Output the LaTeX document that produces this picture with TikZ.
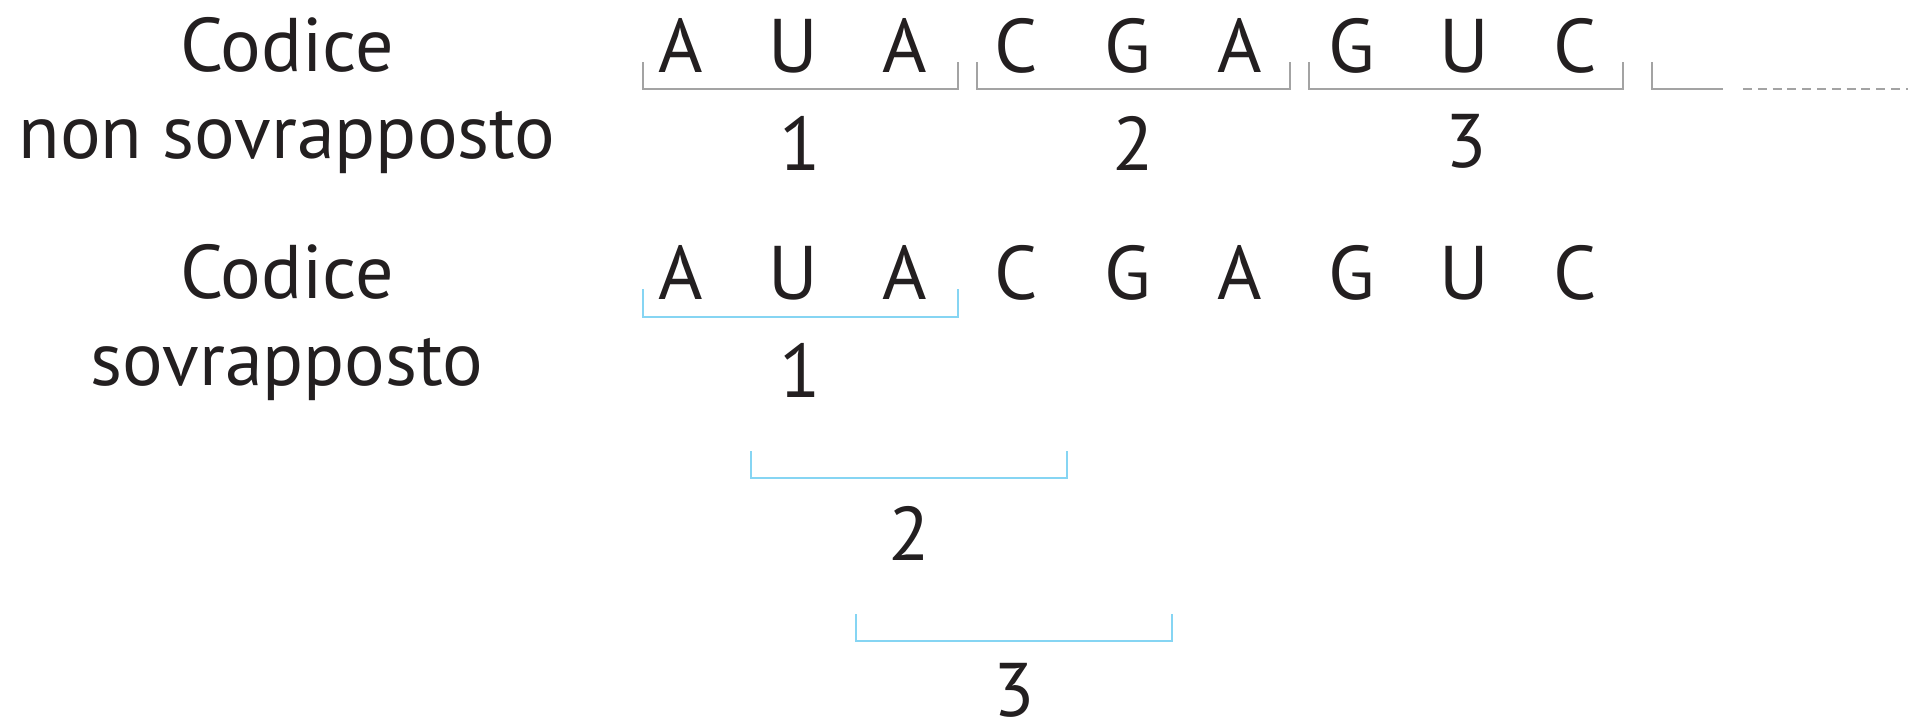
\documentclass[tikz,border=0pt]{standalone}
\usepackage{fontspec}
\setmainfont{PT Sans}[Numbers=Lining]
\definecolor{codtext}{HTML}{231F20}
\definecolor{nongray}{HTML}{A3A3A3}
\definecolor{ovlblue}{HTML}{86D5F3}
\begin{document}
\begin{tikzpicture}[x=0.5pt,y=-0.5pt,
  nucl/.style={anchor=base, inner sep=0pt, text=codtext, font=\fontsize{38}{46}\selectfont},
  nonbracket/.style={draw=nongray, line width=0.7pt},
  ovlbracket/.style={draw=ovlblue, line width=0.8pt}]
\useasboundingbox (0,0) rectangle (1912,728);
% labels
\node[nucl] (nonlab1) at (287,71) {Codice};
\node[nucl] (nonlab2) at (287,158) {non sovrapposto};
\node[nucl] (ovllab1) at (287,298) {Codice};
\node[nucl] (ovllab2) at (287,385) {sovrapposto};
% non overlapping code
\node[nucl] (n1) at (681,72) {A};
\node[nucl] (n2) at (793,72) {U};
\node[nucl] (n3) at (905,72) {A};
\node[nucl] (n4) at (1016,72) {C};
\node[nucl] (n5) at (1128,72) {G};
\node[nucl] (n6) at (1240,72) {A};
\node[nucl] (n7) at (1352,72) {G};
\node[nucl] (n8) at (1464,72) {U};
\node[nucl] (n9) at (1575,72) {C};
\draw[nonbracket] (643,62) |- (958,89) -- (958,62);
\draw[nonbracket] (977,62) |- (1290,89) -- (1290,62);
\draw[nonbracket] (1309,62) |- (1623,89) -- (1623,62);
\draw[nonbracket] (1652,62) |- (1723,89);
\draw[nonbracket, dash pattern=on 4.5pt off 2.9pt] (1743,89) -- (1908,89);
\node[nucl] (nnum1) at (800,170) {1};
\node[nucl] (nnum2) at (1133,170) {2};
\node[nucl] (nnum3) at (1466,167) {3};
% overlapping code
\node[nucl] (s1) at (681,299) {A};
\node[nucl] (s2) at (793,299) {U};
\node[nucl] (s3) at (905,299) {A};
\node[nucl] (s4) at (1016,299) {C};
\node[nucl] (s5) at (1128,299) {G};
\node[nucl] (s6) at (1240,299) {A};
\node[nucl] (s7) at (1352,299) {G};
\node[nucl] (s8) at (1464,299) {U};
\node[nucl] (s9) at (1575,299) {C};
\draw[ovlbracket] (643,289) |- (958,317) -- (958,289);
\draw[ovlbracket] (751,451) |- (1067,478) -- (1067,451);
\draw[ovlbracket] (856,614) |- (1172,641) -- (1172,614);
\node[nucl] (snum1) at (800,397) {1};
\node[nucl] (snum2) at (909,560) {2};
\node[nucl] (snum3) at (1014,716) {3};
\end{tikzpicture}
\end{document}
